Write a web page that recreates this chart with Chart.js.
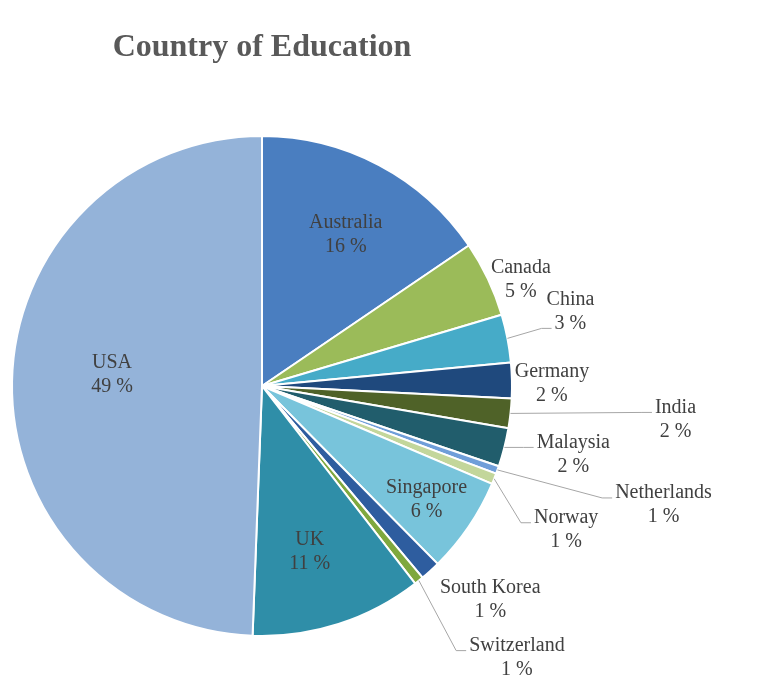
<!DOCTYPE html>
<html>
<head>
<meta charset="utf-8">
<script src="https://cdn.jsdelivr.net/npm/chart.js@4.4.0/dist/chart.umd.min.js"></script>
<style>
  body { margin: 0; background: #fff; }
  #wrap { width: 763px; height: 698px; position: relative; }
</style>
</head>
<body>
<div id="wrap"><canvas id="eduChart"></canvas></div>
<script>
const TITLE = "Country of Education";

const countries = [
  "Australia", "Canada", "China", "Germany", "India", "Malaysia",
  "Netherlands", "Norway", "Singapore", "South Korea", "Switzerland", "UK", "USA"
];
// slice sizes (percent of the circle)
const shares = [15.5, 4.9, 3.1, 2.3, 1.9, 2.5, 0.5, 0.7, 6.2, 1.3, 0.6, 11.1, 49.4];
// percentages as printed on the labels
const shownPct = [16, 5, 3, 2, 2, 2, 1, 1, 6, 1, 1, 11, 49];

const sliceColors = [
  "#4a7ec0", "#9bbb59", "#46abc8", "#1f497d", "#4f6228", "#215d6c",
  "#6f9ed9", "#c3d69b", "#78c4db", "#2e5d9f", "#7fa83e", "#2f8ea8", "#94b3d9"
];

// label placement: inside labels sit at a fraction of the radius,
// outside labels are offset from the slice's outer edge
const labelPlace = [
  { inside: true, f: 0.69, dx: 3, dy: 1 },
  { dx: 33, dy: -11 },
  { dx: 63, dy: -39, leader: true, toLine: 2 },
  { dx: 40, dy: -9 },
  { dx: 165, dy: -6, leader: true },
  { dx: 69, dy: -5, leader: true },
  { dx: 166, dy: 23, leader: true },
  { dx: 72, dy: 39, leader: true },
  { inside: true, f: 0.81, dx: -3 },
  { dx: 60, dy: 17 },
  { dx: 98, dy: 65, leader: true },
  { inside: true, f: 0.69, dx: -5, dy: 2 },
  { inside: true, f: 0.6, dy: -8 }
];

const LABEL_FONT = "20px 'Liberation Serif', serif";
const LINE_GAP = 24;

const pieLabels = {
  id: "pieLabels",
  afterDatasetsDraw(chart) {
    const ctx = chart.ctx;
    const arcs = chart.getDatasetMeta(0).data;
    ctx.save();
    ctx.font = LABEL_FONT;
    ctx.textAlign = "center";
    ctx.textBaseline = "middle";
    arcs.forEach((arc, i) => {
      const p = arc.getProps(["x", "y", "startAngle", "endAngle", "outerRadius"], true);
      const mid = (p.startAngle + p.endAngle) / 2;
      const place = labelPlace[i];
      const line1 = countries[i];
      const line2 = shownPct[i] + " %";
      let lx, ly;
      if (place.inside) {
        lx = p.x + Math.cos(mid) * p.outerRadius * place.f + (place.dx || 0);
        ly = p.y + Math.sin(mid) * p.outerRadius * place.f - LINE_GAP / 2 + (place.dy || 0);
      } else {
        const ex = p.x + Math.cos(mid) * p.outerRadius;
        const ey = p.y + Math.sin(mid) * p.outerRadius;
        lx = ex + place.dx;
        ly = ey + place.dy;
        if (place.leader) {
          const w1 = ctx.measureText(line1).width;
          const w2 = ctx.measureText(line2).width;
          let endX, endY;
          if (place.toLine === 2) {
            endX = lx - w2 / 2 - 3;
            endY = ly + LINE_GAP + 5;
          } else {
            endX = lx - w1 / 2 - 3;
            endY = ly + 5;
          }
          ctx.beginPath();
          ctx.strokeStyle = "#a6a6a6";
          ctx.lineWidth = 1;
          ctx.moveTo(ex, ey);
          ctx.lineTo(endX - 10, endY);
          ctx.lineTo(endX, endY);
          ctx.stroke();
        }
      }
      ctx.fillStyle = "#404040";
      ctx.fillText(line1, lx, ly);
      ctx.fillText(line2, lx, ly + LINE_GAP);
    });

    // title centred over the pie
    const cx = arcs[0].x;
    ctx.font = "bold 32px 'Liberation Serif', serif";
    ctx.fillStyle = "#595959";
    ctx.textBaseline = "alphabetic";
    ctx.fillText(TITLE, cx, 56);
    ctx.restore();
  }
};

const ctx = document.getElementById("eduChart").getContext("2d");
const chart = new Chart(ctx, {
  type: "pie",
  data: {
    labels: countries,
    datasets: [
      {
        data: shares,
        backgroundColor: sliceColors,
        borderColor: "#ffffff",
        borderWidth: 2,
      },
    ],
  },
  options: {
    responsive: true,
    maintainAspectRatio: false,
    animation: false,
    layout: {
      padding: { left: 11, right: 250, top: 135, bottom: 61 },
    },
    plugins: {
      legend: { display: false },
      tooltip: { enabled: false },
      title: { display: false },
    },
  },
  plugins: [pieLabels],
});
</script>
</body>
</html>
